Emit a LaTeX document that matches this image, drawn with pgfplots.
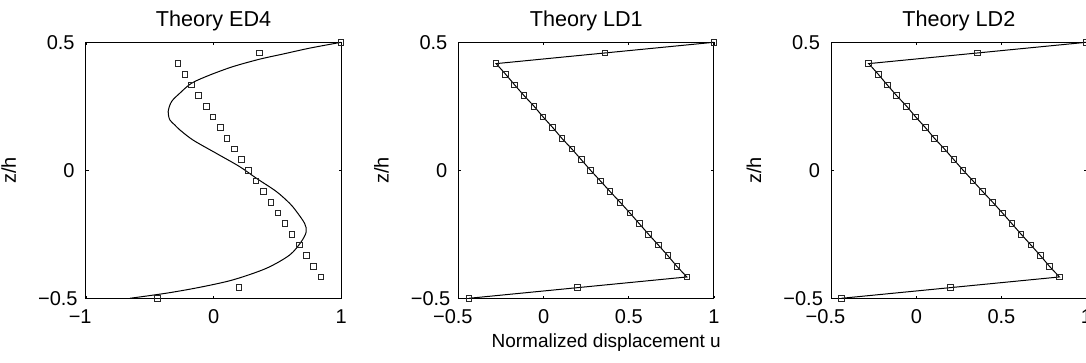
\documentclass[border=0pt]{standalone}
\usepackage{pgfplots}
\pgfplotsset{compat=1.18}
\usepackage{pgfplotstable}
\usepackage{fontspec}
\setmainfont{Liberation Sans}

\pgfplotstableread{
x z
1.000 0.5
0.360 0.45833
-0.280 0.41667
-0.224 0.375
-0.171 0.33333
-0.116 0.29167
-0.057 0.25
-0.004 0.20833
0.053 0.16667
0.106 0.125
0.165 0.08333
0.220 0.04167
0.275 0.0
0.333 -0.04167
0.390 -0.08333
0.449 -0.125
0.506 -0.16667
0.561 -0.20833
0.616 -0.25
0.673 -0.29167
0.729 -0.33333
0.782 -0.375
0.841 -0.41667
0.200 -0.45833
-0.440 -0.5
}\exact

\pgfplotstableread{
x z
1.000 0.500
0.752 0.477
0.543 0.454
0.361 0.434
0.152 0.405
-0.030 0.372
-0.173 0.340
-0.265 0.301
-0.330 0.268
-0.356 0.229
-0.343 0.197
-0.304 0.177
-0.265 0.158
-0.161 0.118
0.022 0.066
0.205 0.014
0.335 -0.031
0.492 -0.083
0.596 -0.129
0.645 -0.158
0.713 -0.207
0.726 -0.240
0.687 -0.279
0.596 -0.331
0.413 -0.383
0.152 -0.428
-0.108 -0.457
-0.369 -0.480
-0.656 -0.500
}\edfour

\pgfplotsset{
  panel/.style={
    scale only axis,
    width=127.6pt, height=128pt,
    anchor=south west,
    ymin=-0.5, ymax=0.5,
    ytick={-0.5,0,0.5},
    yticklabels={−0.5\kern-1.5pt,0,0.5},
    tick align=inside,
    major tick length=1.3pt,
    tick style={line width=0.4pt, black},
    axis line style={line width=0.5pt},
    clip=false,
    xticklabel style={inner sep=0pt, anchor=north, yshift=-5.5pt},
    yticklabel style={inner sep=0pt, anchor=east, xshift=-5.5pt},
    ylabel={z/h},
    ylabel style={at={(axis description cs:-0.275,0.5)}, anchor=base, inner sep=0pt},
    every axis title shift=0pt,
    title style={at={(axis description cs:0.5,1)}, anchor=base, yshift=7.8pt, inner sep=0pt, font=\fontsize{10.8}{13}\selectfont},
  },
  marks/.style={only marks, mark=square, mark size=1.4pt, mark options={solid, line width=0.5pt, draw=black!85}},
}

\begin{document}
\begin{tikzpicture}
\begin{axis}[panel, at={(0pt,0pt)},
  xmin=-1, xmax=1, xtick={-1,0,1}, xticklabels={\llap{−}1,0,1},
  title={Theory ED4}]
\addplot[black, line width=0.5pt, smooth, tension=0.5] table[x=x,y=z] {\edfour};
\addplot[marks] table[x=x,y=z] {\exact};
\end{axis}

\begin{axis}[panel, at={(186.35pt,0pt)},
  xmin=-0.5, xmax=1, xtick={-0.5,0,0.5,1}, xticklabels={\llap{−}0.5,0,0.5,1},
  title={Theory LD1},
  xlabel={Normalized displacement u},
  xlabel style={at={(axis description cs:0.578,0)}, anchor=base, yshift=-24.7pt, inner sep=0pt, font=\fontsize{9.5}{11}\selectfont}]
\addplot[black, line width=0.5pt] table[x=x,y=z] {\exact};
\addplot[marks] table[x=x,y=z] {\exact};
\end{axis}

\begin{axis}[panel, at={(372.65pt,0pt)},
  xmin=-0.5, xmax=1, xtick={-0.5,0,0.5,1}, xticklabels={\llap{−}0.5,0,0.5,1},
  title={Theory LD2}]
\addplot[black, line width=0.5pt] table[x=x,y=z] {\exact};
\addplot[marks] table[x=x,y=z] {\exact};
\end{axis}

\pgfresetboundingbox
\useasboundingbox (-43pt,-32.35pt) rectangle (500pt,149.15pt);
\end{tikzpicture}
\end{document}
